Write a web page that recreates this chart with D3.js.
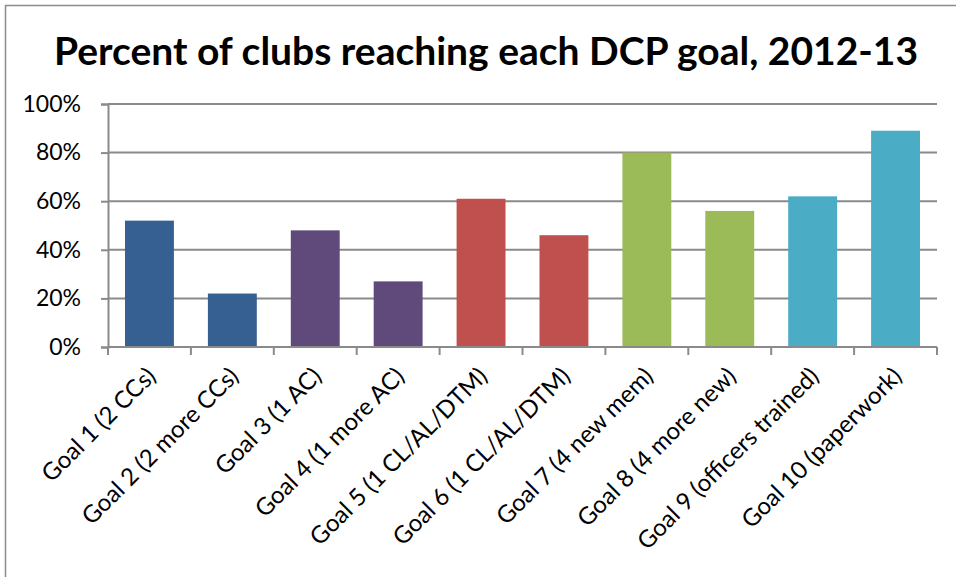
<!DOCTYPE html>
<meta charset="utf-8">
<script src="https://cdn.jsdelivr.net/npm/d3@7"></script>
<style>
body { margin: 0; background: #fff; }
text { font-family: Lato, "Open Sans", sans-serif; fill: #000; }
</style>
<body>
<script>

// data
var goals = ["Goal 1 (2 CCs)", "Goal 2 (2 more CCs)", "Goal 3 (1 AC)", "Goal 4 (1 more AC)",
  "Goal 5 (1 CL/AL/DTM)", "Goal 6 (1 CL/AL/DTM)", "Goal 7 (4 new mem)", "Goal 8 (4 more new)",
  "Goal 9 (officers trained)", "Goal 10 (paperwork)"];
var percents = [52, 22, 48, 27, 61, 46, 80, 56, 62, 89];
var barColors = ["#366092", "#366092", "#604a7b", "#604a7b", "#c0504d", "#c0504d",
  "#9bbb59", "#9bbb59", "#4bacc6", "#4bacc6"];
var yTicks = [0, 20, 40, 60, 80, 100];

var width = 956,
    height = 577,
    margin = {top: 104, right: 19, bottom: 230, left: 108};

var svg = d3.select("body").append("svg")
    .attr("width", width)
    .attr("height", height);

// chart frame
svg.append("rect")
    .attr("x", 5.5).attr("y", 5.5)
    .attr("width", width + 20).attr("height", height + 20)
    .attr("fill", "none")
    .attr("stroke", "#8c8c8c")
    .attr("stroke-width", 1.5);

svg.append("text")
    .attr("x", 486)
    .attr("y", 65)
    .attr("text-anchor", "middle")
    .style("font-size", "39px")
    .style("font-weight", "bold")
    .text("Percent of clubs reaching each DCP goal, 2012-13");

var x = d3.scaleBand()
    .domain(goals)
    .range([margin.left, width - margin.right])
    .paddingInner(0.41)
    .paddingOuter(0.205);

var y = d3.scaleLinear()
    .domain([0, 100])
    .range([height - margin.bottom, margin.top]);

// gridlines
svg.append("g")
  .selectAll("line")
  .data(yTicks.slice(1))
  .enter().append("line")
    .attr("x1", margin.left)
    .attr("x2", width - margin.right)
    .attr("y1", function(d) { return y(d); })
    .attr("y2", function(d) { return y(d); })
    .attr("stroke", "#8a8a8a")
    .attr("stroke-width", 2);

// bars
svg.append("g")
  .selectAll("rect")
  .data(percents)
  .enter().append("rect")
    .attr("x", function(d, i) { return x(goals[i]); })
    .attr("width", x.bandwidth())
    .attr("y", function(d) { return y(d); })
    .attr("height", function(d) { return y(0) - y(d); })
    .attr("fill", function(d, i) { return barColors[i]; });

// y axis
var yAxis = svg.append("g")
    .attr("transform", "translate(" + margin.left + ",0)")
    .call(d3.axisLeft(y).tickValues(yTicks).tickSize(7).tickPadding(20)
      .tickFormat(function(d) { return d + "%"; }));
yAxis.selectAll("line, path").attr("stroke", "#8a8a8a").attr("stroke-width", 2);
yAxis.selectAll("text").style("font-size", "23px").style("font-family", "Lato, sans-serif");

// x axis with ticks at band edges
var edges = d3.range(goals.length + 1).map(function(i) {
  return margin.left + i * (width - margin.left - margin.right) / goals.length;
});
var xg = svg.append("g");
xg.append("line")
    .attr("x1", margin.left).attr("x2", width - margin.right)
    .attr("y1", y(0)).attr("y2", y(0))
    .attr("stroke", "#8a8a8a").attr("stroke-width", 2);
xg.selectAll(".tick")
  .data(edges)
  .enter().append("line")
    .attr("x1", function(d) { return d; })
    .attr("x2", function(d) { return d; })
    .attr("y1", y(0))
    .attr("y2", y(0) + 8)
    .attr("stroke", "#8a8a8a").attr("stroke-width", 2);

xg.selectAll("text")
  .data(goals)
  .enter().append("text")
    .attr("transform", function(d) {
      return "translate(" + (x(d) + x.bandwidth() / 2 - 5) + "," + (y(0) + 18) + ") rotate(-45)";
    })
    .attr("text-anchor", "end")
    .attr("dy", "0.75em")
    .style("font-size", "24px")
    .text(function(d) { return d; });

</script>
</body>
